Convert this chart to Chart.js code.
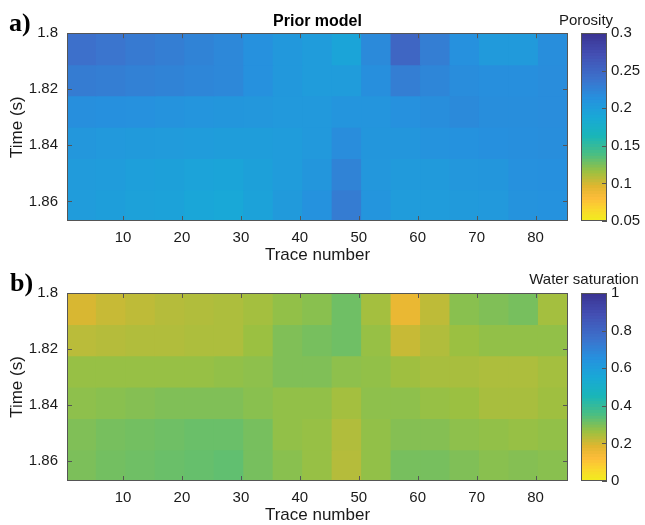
<!DOCTYPE html>
<html>
<head>
<meta charset="utf-8">
<script src="https://cdn.jsdelivr.net/npm/chart.js@4.4.0/dist/chart.umd.min.js"></script>
<style>
  body { margin:0; background:#fff; }
  #wrap { position:relative; width:645px; height:525px; background:#fff; overflow:hidden; }
  #wrap canvas { position:absolute; }
  .tag { position:absolute; font-family:'Liberation Serif','DejaVu Serif',serif; font-weight:bold; font-size:26px; line-height:26px; color:#000; }
  .cbt { position:absolute; width:140px; text-align:center; font-family:'Liberation Sans',Arial,sans-serif; font-size:15px; line-height:16px; color:#1a1a1a; }
</style>
</head>
<body>
<div id="wrap">
  <canvas id="map-a" width="578" height="266" style="left:0;top:0"></canvas>
  <canvas id="bar-a" width="105" height="262" style="left:540px;top:0"></canvas>
  <canvas id="map-b" width="578" height="266" style="left:0;top:260px"></canvas>
  <canvas id="bar-b" width="105" height="262" style="left:540px;top:260px"></canvas>
  <div class="tag" style="left:9px;top:10px">a)</div>
  <div class="tag" style="left:10px;top:270px">b)</div>
  <div class="cbt" style="left:516px;top:12px">Porosity</div>
  <div class="cbt" style="left:514px;top:271px">Water saturation</div>
</div>
<script>
/* ── data: one value per cell (5 traces x ~0.011 s) ── */
var TRACE_COLS  = [3, 8, 13, 18, 23, 28, 33, 38, 43, 48, 53, 58, 63, 68, 73, 78, 83];
var TIME_EDGES  = [1.8, 1.8112, 1.8223, 1.8335, 1.8447, 1.8558, 1.867];
var TRACE_TICKS = [10, 20, 30, 40, 50, 60, 70, 80];
var TIME_TICKS  = [1.8, 1.82, 1.84, 1.86];
var PORO_TICKS  = [0.05, 0.1, 0.15, 0.2, 0.25, 0.3];
var SW_TICKS    = [0, 0.2, 0.4, 0.6, 0.8, 1];

var PORO = [
  [0.240, 0.236, 0.232, 0.228, 0.224, 0.220, 0.212, 0.205, 0.200, 0.192, 0.218, 0.250, 0.228, 0.212, 0.203, 0.203, 0.215],
  [0.230, 0.228, 0.226, 0.224, 0.222, 0.220, 0.212, 0.205, 0.200, 0.200, 0.214, 0.228, 0.222, 0.216, 0.214, 0.214, 0.216],
  [0.214, 0.213, 0.212, 0.210, 0.208, 0.207, 0.206, 0.204, 0.204, 0.208, 0.208, 0.212, 0.215, 0.218, 0.215, 0.215, 0.216],
  [0.206, 0.204, 0.203, 0.202, 0.200, 0.199, 0.199, 0.200, 0.204, 0.216, 0.207, 0.207, 0.210, 0.211, 0.213, 0.214, 0.215],
  [0.202, 0.200, 0.197, 0.196, 0.193, 0.192, 0.196, 0.200, 0.207, 0.224, 0.206, 0.203, 0.203, 0.206, 0.207, 0.212, 0.213],
  [0.200, 0.198, 0.195, 0.194, 0.190, 0.188, 0.194, 0.203, 0.211, 0.230, 0.208, 0.201, 0.201, 0.203, 0.204, 0.210, 0.211]
];

var SW = [
  [0.19, 0.21, 0.22, 0.23, 0.235, 0.24, 0.25, 0.27, 0.28, 0.31, 0.25, 0.16, 0.22, 0.28, 0.29, 0.30, 0.25],
  [0.225, 0.23, 0.235, 0.235, 0.24, 0.24, 0.26, 0.29, 0.30, 0.31, 0.265, 0.21, 0.235, 0.26, 0.27, 0.27, 0.27],
  [0.265, 0.265, 0.265, 0.265, 0.265, 0.27, 0.275, 0.29, 0.29, 0.275, 0.27, 0.255, 0.245, 0.245, 0.24, 0.24, 0.25],
  [0.275, 0.28, 0.285, 0.29, 0.29, 0.29, 0.28, 0.27, 0.27, 0.25, 0.275, 0.275, 0.265, 0.26, 0.245, 0.245, 0.255],
  [0.29, 0.30, 0.305, 0.31, 0.315, 0.315, 0.30, 0.27, 0.265, 0.235, 0.27, 0.285, 0.285, 0.275, 0.27, 0.265, 0.27],
  [0.295, 0.305, 0.31, 0.315, 0.32, 0.325, 0.30, 0.28, 0.265, 0.23, 0.27, 0.30, 0.30, 0.29, 0.28, 0.285, 0.28]
];

/* ── colour map (parula, flipped: low = yellow) ── */
var CMAP = [
  [0.00, 58, 50, 145], [0.12, 68, 80, 180], [0.25, 60, 115, 205], [0.35, 38, 145, 222],
  [0.45, 25, 168, 215], [0.55, 25, 182, 185], [0.65, 75, 190, 130], [0.74, 155, 192, 65],
  [0.82, 225, 182, 48], [0.88, 252, 188, 58], [0.94, 250, 215, 45], [1.00, 242, 236, 30]
];
function cmap(f) {
  f = Math.max(0, Math.min(1, f));
  for (var i = 1; i < CMAP.length; i++) {
    if (f <= CMAP[i][0]) {
      var a = CMAP[i-1], b = CMAP[i], t = (f - a[0]) / (b[0] - a[0]);
      return 'rgb(' + [1,2,3].map(function(k) { return Math.round(a[k] + (b[k]-a[k])*t); }).join(',') + ')';
    }
  }
  return 'rgb(242,236,30)';
}

var FONT = "'Liberation Sans', Arial, sans-serif";
var TXT = '#1a1a1a';
function fmt(v) { return String(+(+v).toFixed(3)); }
function fixTicks(arr) { return function(s) { s.ticks = arr.map(function(v) { return { value: v }; }); }; }

/* box + inward tick marks, like matlab axes */
var framePlugin = {
  id: 'frame',
  afterDatasetsDraw: function(chart, args, opts) {
    var a = chart.chartArea, ctx = chart.ctx, L = 5;
    ctx.save();
    ctx.strokeStyle = '#555';
    ctx.lineWidth = 1;
    ctx.beginPath();
    if (opts.xTicks) {
      chart.scales.x.ticks.forEach(function(t) {
        var px = Math.round(chart.scales.x.getPixelForValue(t.value)) + 0.5;
        ctx.moveTo(px, a.bottom); ctx.lineTo(px, a.bottom - L);
        ctx.moveTo(px, a.top); ctx.lineTo(px, a.top + L);
      });
    }
    chart.scales.y.ticks.forEach(function(t) {
      var py = Math.round(chart.scales.y.getPixelForValue(t.value)) + 0.5;
      if (opts.leftTicks) { ctx.moveTo(a.left, py); ctx.lineTo(a.left + L, py); }
      ctx.moveTo(a.right, py); ctx.lineTo(a.right - L, py);
    });
    ctx.stroke();
    ctx.strokeRect(Math.round(a.left) + 0.5, Math.round(a.top) + 0.5, Math.round(a.right - a.left) - 1, Math.round(a.bottom - a.top) - 1);
    ctx.restore();
  }
};

function makeMap(id, grid, lo, hi, title) {
  var datasets = grid.map(function(row, r) {
    return {
      data: row.map(function(v, c) { return { x: TRACE_COLS[c], y: [TIME_EDGES[r], TIME_EDGES[r+1]] }; }),
      backgroundColor: row.map(function(v) { return cmap((hi - v) / (hi - lo)); }),
      grouped: false, barPercentage: 1, categoryPercentage: 1, borderWidth: 0, inflateAmount: 0.6
    };
  });
  return new Chart(document.getElementById(id), {
    type: 'bar',
    data: { datasets: datasets },
    options: {
      responsive: false, animation: false,
      layout: { padding: { top: title ? 12 : 33, right: 10, left: 0, bottom: 0 } },
      plugins: {
        legend: { display: false }, tooltip: { enabled: false },
        title: { display: !!title, text: title, fullSize: false, color: '#000',
                 font: { family: FONT, size: 16, weight: 'bold' }, padding: { top: 0, bottom: 2 } },
        frame: { xTicks: true, leftTicks: true }
      },
      scales: {
        x: {
          type: 'linear', min: 0.5, max: 85.5, offset: false,
          grid: { display: false, drawTicks: false }, border: { display: false },
          afterBuildTicks: fixTicks(TRACE_TICKS),
          afterFit: function(s) { s.height = 45; },
          ticks: { font: { family: FONT, size: 15 }, color: TXT, padding: 8, maxRotation: 0, callback: fmt },
          title: { display: true, text: 'Trace number', color: TXT, font: { family: FONT, size: 17 }, padding: { top: 0, bottom: 0 } }
        },
        y: {
          type: 'linear', reverse: true, min: 1.8, max: 1.867,
          grid: { display: false, drawTicks: false }, border: { display: false },
          afterBuildTicks: fixTicks(TIME_TICKS),
          afterFit: function(s) { s.width = 67; },
          ticks: { font: { family: FONT, size: 15 }, color: TXT, padding: 9, callback: fmt },
          title: { display: true, text: 'Time (s)', color: TXT, font: { family: FONT, size: 17 }, padding: { top: 7, bottom: 0 } }
        }
      }
    },
    plugins: [framePlugin]
  });
}

function makeBar(id, lo, hi, ticks) {
  var n = 64, step = (hi - lo) / n, datasets = [];
  for (var i = 0; i < n; i++) {
    datasets.push({ data: [[lo + i*step, lo + (i+1)*step]], backgroundColor: cmap(1 - (i + 0.5) / n),
      grouped: false, barPercentage: 1, categoryPercentage: 1, borderWidth: 0, inflateAmount: 0.6 });
  }
  return new Chart(document.getElementById(id), {
    type: 'bar',
    data: { labels: [''], datasets: datasets },
    options: {
      responsive: false, animation: false,
      layout: { padding: { top: 33, right: 0, left: 41, bottom: 41 } },
      plugins: { legend: { display: false }, tooltip: { enabled: false }, frame: { xTicks: false, leftTicks: false } },
      scales: {
        x: { display: false },
        y: {
          position: 'right', min: lo, max: hi,
          grid: { display: false, drawTicks: false }, border: { display: false },
          afterBuildTicks: fixTicks(ticks),
          afterFit: function(s) { s.width = 38; },
          ticks: { font: { family: FONT, size: 15 }, color: TXT, padding: 4, callback: fmt }
        }
      }
    },
    plugins: [framePlugin]
  });
}

makeMap('map-a', PORO, 0.05, 0.3, 'Prior model');
makeBar('bar-a', 0.05, 0.3, PORO_TICKS);
makeMap('map-b', SW, 0, 1, '');
makeBar('bar-b', 0, 1, SW_TICKS);
</script>
</body>
</html>
